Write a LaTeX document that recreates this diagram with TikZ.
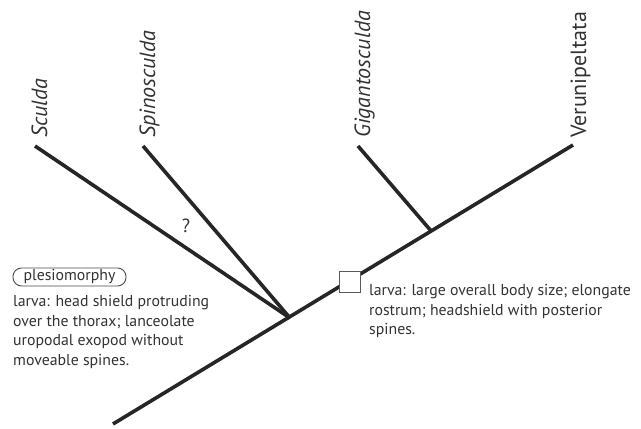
\documentclass[tikz,border=0pt]{standalone}
\usepackage{fontspec}
\setmainfont{PT Sans}
\begin{document}
\begin{tikzpicture}[x=1pt,y=-1pt,
  branch/.style={line width=3.6pt, draw=black!85, line cap=butt},
  taxon/.style={rotate=90, anchor=base west, inner sep=0pt, font=\fontsize{22}{24}\selectfont, text=black!80},
  note/.style={anchor=north west, inner sep=0pt, align=left, font=\fontsize{15.8}{19.5}\selectfont, text=black!80},
  apobox/.style={draw=black!65, fill=white, line width=1.1pt, minimum size=21pt, inner sep=0pt},
  tag/.style={draw=black!70, line width=0.9pt, rounded corners=8.5pt, minimum width=113pt, minimum height=18pt, inner sep=0pt, font=\fontsize{15.8}{19.5}\selectfont, text=black!80}]
\useasboundingbox[fill=white] (0,0) rectangle (641,429);
\coordinate (root) at (113,424);
\coordinate (j1) at (290,318);
\coordinate (j2) at (432,232);
\coordinate (tS) at (35,146);
\coordinate (tSp) at (143,146);
\coordinate (tG) at (358,146);
\coordinate (tV) at (573,145);
\draw[branch] (root) -- (tV);
\draw[branch] (tS) -- (j1);
\draw[branch] (tSp) -- (j1);
\draw[branch] (tG) -- (j2);
\node[taxon] (lS) at (47,138) {\itshape Sculda};
\node[taxon] (lSp) at (155,138) {\itshape Spinosculda};
\node[taxon] (lG) at (370,138) {\itshape Gigantosculda};
\node[taxon] (lV) at (586,138) {Verunipeltata};
\node[anchor=base, inner sep=0pt, font=\fontsize{19}{22}\selectfont, text=black!80] (q) at (186,232) {?};
\node[apobox] (apo) at (350,282) {};
\node[tag] (plesio) at (69.5,277) {plesiomorphy};
\node[note] (pltext) at (13,295.5) {larva: head shield protruding\\over the thorax; lanceolate\\uropodal exopod without\\moveable spines.};
\node[note] (aptext) at (369,284.5) {larva: large overall body size; elongate\\rostrum; headshield with posterior\\spines.};
\end{tikzpicture}
\end{document}
